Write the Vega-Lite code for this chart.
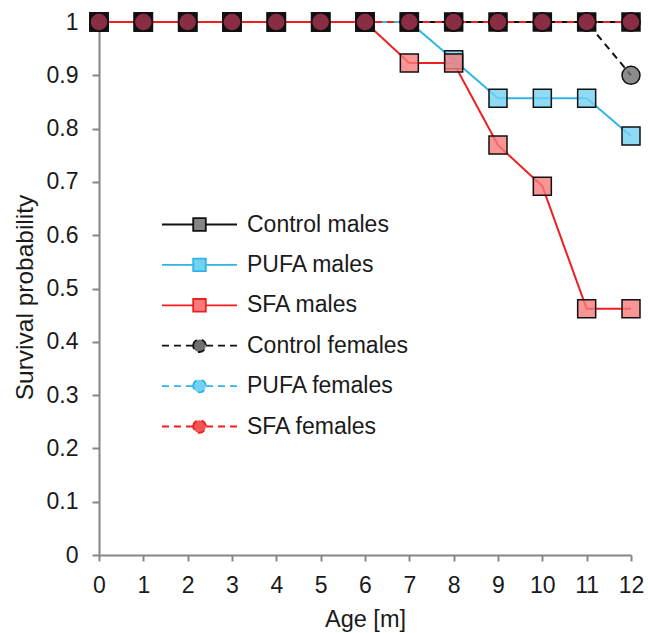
{
  "$schema": "https://vega.github.io/schema/vega-lite/v6.json",
  "width": 532,
  "height": 533,
  "autosize": "none",
  "padding": {"left": 99, "top": 22, "right": 17, "bottom": 78},
  "background": "white",
  "config": {
    "view": {"stroke": null},
    "font": "Liberation Sans",
    "axis": {
      "grid": false,
      "domainColor": "#868686",
      "tickColor": "#868686",
      "domainWidth": 2,
      "tickWidth": 2,
      "labelFont": "Liberation Sans",
      "titleFont": "Liberation Sans",
      "labelFontSize": 23,
      "titleFontSize": 23.5,
      "titleFontWeight": "normal",
      "labelColor": "#1a1a1a",
      "titleColor": "#1a1a1a",
      "labelFlush": false,
      "labelOverlap": false
    }
  },
  "data": {
    "values": [
      {"series": "Control males", "age": 0, "surv": 1},
      {"series": "Control males", "age": 1, "surv": 1},
      {"series": "Control males", "age": 2, "surv": 1},
      {"series": "Control males", "age": 3, "surv": 1},
      {"series": "Control males", "age": 4, "surv": 1},
      {"series": "Control males", "age": 5, "surv": 1},
      {"series": "Control males", "age": 6, "surv": 1},
      {"series": "Control males", "age": 7, "surv": 1},
      {"series": "Control males", "age": 8, "surv": 1},
      {"series": "Control males", "age": 9, "surv": 1},
      {"series": "Control males", "age": 10, "surv": 1},
      {"series": "Control males", "age": 11, "surv": 1},
      {"series": "Control males", "age": 12, "surv": 1},
      {"series": "PUFA males", "age": 0, "surv": 1},
      {"series": "PUFA males", "age": 1, "surv": 1},
      {"series": "PUFA males", "age": 2, "surv": 1},
      {"series": "PUFA males", "age": 3, "surv": 1},
      {"series": "PUFA males", "age": 4, "surv": 1},
      {"series": "PUFA males", "age": 5, "surv": 1},
      {"series": "PUFA males", "age": 6, "surv": 1},
      {"series": "PUFA males", "age": 7, "surv": 1},
      {"series": "PUFA males", "age": 8, "surv": 0.929},
      {"series": "PUFA males", "age": 9, "surv": 0.857},
      {"series": "PUFA males", "age": 10, "surv": 0.857},
      {"series": "PUFA males", "age": 11, "surv": 0.857},
      {"series": "PUFA males", "age": 12, "surv": 0.786},
      {"series": "SFA males", "age": 0, "surv": 1},
      {"series": "SFA males", "age": 1, "surv": 1},
      {"series": "SFA males", "age": 2, "surv": 1},
      {"series": "SFA males", "age": 3, "surv": 1},
      {"series": "SFA males", "age": 4, "surv": 1},
      {"series": "SFA males", "age": 5, "surv": 1},
      {"series": "SFA males", "age": 6, "surv": 1},
      {"series": "SFA males", "age": 7, "surv": 0.923},
      {"series": "SFA males", "age": 8, "surv": 0.923},
      {"series": "SFA males", "age": 9, "surv": 0.769},
      {"series": "SFA males", "age": 10, "surv": 0.692},
      {"series": "SFA males", "age": 11, "surv": 0.462},
      {"series": "SFA males", "age": 12, "surv": 0.462},
      {"series": "Control females", "age": 0, "surv": 1},
      {"series": "Control females", "age": 1, "surv": 1},
      {"series": "Control females", "age": 2, "surv": 1},
      {"series": "Control females", "age": 3, "surv": 1},
      {"series": "Control females", "age": 4, "surv": 1},
      {"series": "Control females", "age": 5, "surv": 1},
      {"series": "Control females", "age": 6, "surv": 1},
      {"series": "Control females", "age": 7, "surv": 1},
      {"series": "Control females", "age": 8, "surv": 1},
      {"series": "Control females", "age": 9, "surv": 1},
      {"series": "Control females", "age": 10, "surv": 1},
      {"series": "Control females", "age": 11, "surv": 1},
      {"series": "Control females", "age": 12, "surv": 0.9},
      {"series": "PUFA females", "age": 0, "surv": 1},
      {"series": "PUFA females", "age": 1, "surv": 1},
      {"series": "PUFA females", "age": 2, "surv": 1},
      {"series": "PUFA females", "age": 3, "surv": 1},
      {"series": "PUFA females", "age": 4, "surv": 1},
      {"series": "PUFA females", "age": 5, "surv": 1},
      {"series": "PUFA females", "age": 6, "surv": 1},
      {"series": "PUFA females", "age": 7, "surv": 1},
      {"series": "PUFA females", "age": 8, "surv": 1},
      {"series": "PUFA females", "age": 9, "surv": 1},
      {"series": "PUFA females", "age": 10, "surv": 1},
      {"series": "PUFA females", "age": 11, "surv": 1},
      {"series": "PUFA females", "age": 12, "surv": 1},
      {"series": "SFA females", "age": 0, "surv": 1},
      {"series": "SFA females", "age": 1, "surv": 1},
      {"series": "SFA females", "age": 2, "surv": 1},
      {"series": "SFA females", "age": 3, "surv": 1},
      {"series": "SFA females", "age": 4, "surv": 1},
      {"series": "SFA females", "age": 5, "surv": 1},
      {"series": "SFA females", "age": 6, "surv": 1},
      {"series": "SFA females", "age": 7, "surv": 1},
      {"series": "SFA females", "age": 8, "surv": 1},
      {"series": "SFA females", "age": 9, "surv": 1},
      {"series": "SFA females", "age": 10, "surv": 1},
      {"series": "SFA females", "age": 11, "surv": 1},
      {"series": "SFA females", "age": 12, "surv": 1}
    ]
  },
  "layer": [
    {
      "mark": {"type": "line", "strokeWidth": 2},
      "encoding": {
        "x": {
          "field": "age", "type": "quantitative",
          "scale": {"domain": [0, 12], "nice": false, "zero": false},
          "axis": {"values": [0,1,2,3,4,5,6,7,8,9,10,11,12], "title": "Age [m]", "tickSize": 6, "labelPadding": 13, "titlePadding": 10}
        },
        "y": {
          "field": "surv", "type": "quantitative",
          "scale": {"domain": [0, 1], "nice": false},
          "axis": {"values": [0,0.1,0.2,0.3,0.4,0.5,0.6,0.7,0.8,0.9,1], "format": ".1~f", "title": "Survival probability", "titleFontSize": 24.5, "titleY": 275, "tickSize": 7, "labelPadding": 14, "titlePadding": 9}
        },
        "stroke": {
          "field": "series", "type": "nominal",
          "scale": {"domain": ["Control males", "PUFA males", "SFA males", "Control females", "PUFA females", "SFA females"], "range": ["#111111", "#2fb5e6", "#f01e1e", "#111111", "#2fb5e6", "#f01e1e"]},
          "legend": {
            "title": null, "orient": "none", "legendX": 62, "legendY": 191, "padding": 0,
            "rowPadding": 16.4, "symbolSize": 159, "symbolStrokeWidth": 1.8, "symbolOffset": 27,
            "labelOffset": 36, "labelLimit": 300, "labelFontSize": 23, "labelFont": "Liberation Sans", "labelColor": "#1a1a1a",
            "encode": {
              "symbols": {
                "update": {
                  "shape": {"signal": "indexof(datum.value, 'females') >= 0 ? 'M-5.95,0H-4.84M-4.05,0H-2.94M-2.15,0H-1.04M1.04,0H2.15M2.94,0H4.05M4.84,0H5.95M-1,0A1,1 0 1,1 1,0A1,1 0 1,1 -1,0Z' : 'M-5.95,0H-1M1,0H5.95M-1,-1H1V1H-1Z'"},
                  "fill": {"signal": "{'Control males': '#858585', 'PUFA males': '#73d2f3', 'SFA males': '#f77b7b', 'Control females': '#6f6f6f', 'PUFA females': '#73d2f3', 'SFA females': '#ef5555'}[datum.value]"},
                  "fillOpacity": {"value": 1},
                  "opacity": {"value": 1},
                  "strokeDash": {"value": [1, 0]}
                }
              }
            }
          }
        },
        "strokeDash": {
          "field": "series", "type": "nominal",
          "scale": {"domain": ["Control males", "PUFA males", "SFA males", "Control females", "PUFA females", "SFA females"], "range": [[1, 0], [1, 0], [1, 0], [7, 5], [7, 5], [7, 5]]},
          "legend": null
        }
      }
    },
    {
      "transform": [{"calculate": "'m-' + datum.series", "as": "grp"}],
      "mark": {"type": "point", "filled": true, "opacity": 1, "stroke": "#111111", "strokeWidth": 1.5},
      "encoding": {
        "x": {"field": "age", "type": "quantitative"},
        "y": {"field": "surv", "type": "quantitative"},
        "shape": {
          "field": "grp", "type": "nominal",
          "scale": {"domain": ["m-Control males", "m-PUFA males", "m-SFA males", "m-Control females", "m-PUFA females", "m-SFA females"], "range": ["square", "square", "square", "circle", "circle", "circle"]},
          "legend": null
        },
        "fill": {
          "condition": [
            {"test": "datum.surv === 1 && indexof(datum.grp, 'females') < 0", "value": "#141414"},
            {"test": "datum.surv === 1", "value": "#8a2d44"}
          ],
          "field": "grp", "type": "nominal",
          "scale": {"domain": ["m-Control males", "m-PUFA males", "m-SFA males", "m-Control females", "m-PUFA females", "m-SFA females"], "range": ["#858585", "#73d2f3", "#f77b7b", "#6f6f6f", "#73d2f3", "#ef5555"]},
          "legend": null
        },
        "size": {
          "field": "grp", "type": "nominal",
          "scale": {"domain": ["m-Control males", "m-PUFA males", "m-SFA males", "m-Control females", "m-PUFA females", "m-SFA females"], "range": [324, 324, 324, 240, 240, 240]},
          "legend": null
        },
        "fillOpacity": {"condition": {"test": "datum.surv === 1", "value": 1}, "value": 0.8}
      }
    }
  ]
}
